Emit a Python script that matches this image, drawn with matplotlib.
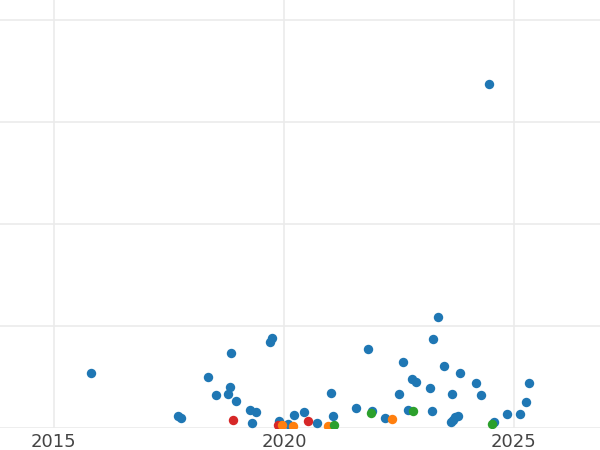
import numpy as np
from matplotlib import pyplot as plt

## data: decimal year and value, by group
blue_x = [2015.80, 2017.70, 2017.76, 2018.35, 2018.52, 2018.78, 2018.83, 2018.85, 2018.96,
          2019.26, 2019.30, 2019.39, 2019.70, 2019.74, 2019.89, 2020.09, 2020.22, 2020.43,
          2020.72, 2021.02, 2021.07, 2021.57, 2021.83, 2021.91, 2022.20, 2022.50, 2022.59,
          2022.70, 2022.78, 2022.87, 2023.17, 2023.22, 2023.24, 2023.35, 2023.48, 2023.63,
          2023.67, 2023.65, 2023.72, 2023.78, 2023.83, 2024.17, 2024.28, 2024.46, 2024.57,
          2024.85, 2025.13, 2025.26, 2025.33]
blue_y = [0.54, 0.11, 0.09, 0.50, 0.32, 0.33, 0.40, 0.73, 0.26,
          0.17, 0.04, 0.15, 0.84, 0.88, 0.06, 0.03, 0.12, 0.15,
          0.04, 0.34, 0.11, 0.19, 0.77, 0.16, 0.09, 0.33, 0.64,
          0.17, 0.48, 0.45, 0.39, 0.16, 0.87, 1.09, 0.60, 0.05,
          0.07, 0.33, 0.10, 0.11, 0.54, 0.44, 0.32, 3.37, 0.05,
          0.13, 0.13, 0.25, 0.44]
red_x = [2018.89, 2019.87, 2020.52]
red_y = [0.07, 0.02, 0.06]
orange_x = [2019.96, 2020.20, 2020.96, 2022.35]
orange_y = [0.02, 0.01, 0.01, 0.08]
green_x = [2021.09, 2021.89, 2022.80, 2024.52]
green_y = [0.02, 0.14, 0.16, 0.03]

fig = plt.figure(figsize=(6, 4.5), dpi=100)
ax = fig.add_axes([0, 0.05, 1, 0.95])

for xs, ys, c in [(blue_x, blue_y, '#1f77b4'), (red_x, red_y, '#d62728'),
                  (orange_x, orange_y, '#ff7f0e'), (green_x, green_y, '#2ca02c')]:
    ax.scatter(xs, ys, s=46, color=c, linewidths=0, zorder=3)

ax.set_xlim(2013.83, 2026.87)
ax.set_ylim(0, 4.2)
ax.set_xticks([2015, 2020, 2025])
ax.set_yticks([0, 1, 2, 3, 4])
ax.set_yticklabels([])
ax.tick_params(length=0, labelsize=13, labelcolor='#444444', pad=4)
ax.grid(color='#ebebeb', linewidth=1.2)
ax.set_axisbelow(True)
for s in ax.spines.values():
    s.set_visible(False)

plt.savefig('out.png', dpi=100)
